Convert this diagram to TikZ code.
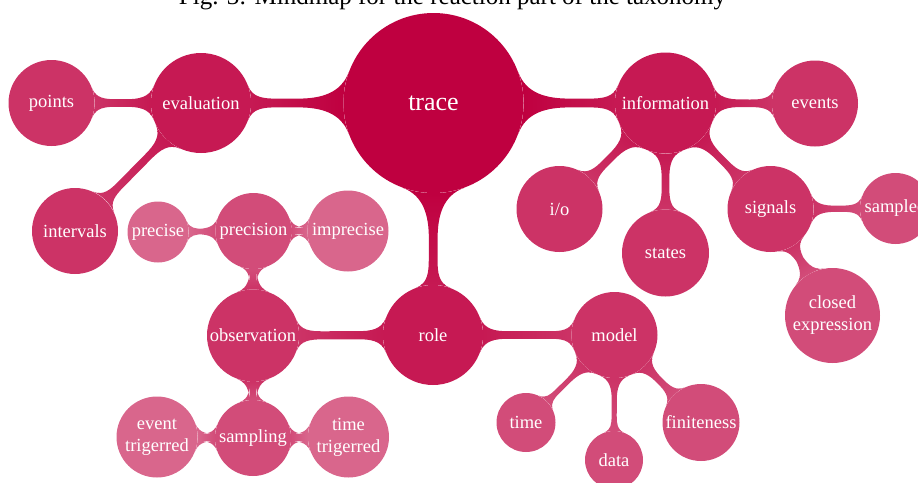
\documentclass[tikz,border=0pt]{standalone}
\usepackage{fontspec}
\setmainfont{Liberation Serif}
\usetikzlibrary{mindmap}
\colorlet{cA}{purple}
\colorlet{cB}{purple!90}
\colorlet{cC}{purple!80}
\colorlet{cD}{purple!70}
\colorlet{cE}{purple!60}
\tikzset{
  bub/.style={circle, inner sep=0pt, text=white, align=center,
    font=\fontsize{18.5}{22}\selectfont, fill=#1},
  link/.style args={#1/#2}{circle connection bar switch color=from (#1) to (#2)}
}
\begin{document}
\begin{tikzpicture}[x=1pt, y=1pt]
\useasboundingbox (0,0) rectangle (918,-482);
\clip (0,0) rectangle (918,-482);
\node[anchor=base, font=\fontsize{25}{30}\selectfont, inner sep=0pt] (cap) at (452.5,-4.5)
  {Fig. 3: Mindmap for the reaction part of the taxonomy};
% nodes
\node[bub=cA, minimum size=180pt, font=\fontsize{26}{30}\selectfont] (trace) at (433.5,-103) {trace};
\node[bub=cB, minimum size=100pt] (evaluation) at (201,-103) {evaluation};
\node[bub=cC, minimum size=86pt] (points) at (51.5,-103) {points};
\node[bub=cC, minimum size=86pt] (intervals) at (75,-231) {intervals};
\node[bub=cB, minimum size=101pt] (information) at (665.5,-103) {information};
\node[bub=cC, minimum size=86pt] (events) at (815,-103.5) {events};
\node[bub=cC, minimum size=86pt] (io) at (559.5,-209) {i/o};
\node[bub=cC, minimum size=87pt] (states) at (665.5,-253) {states};
\node[bub=cC, minimum size=86pt] (signals) at (770.5,-209) {signals};
\node[bub=cD, minimum size=71pt] (sampled) at (895.5,-208.5) {sampled};
\node[bub=cD, minimum size=95pt] (closed) at (832.5,-315.5) {closed\\expression};
\node[bub=cB, minimum size=100pt] (role) at (433,-335) {role};
\node[bub=cC, minimum size=86pt] (model) at (614.5,-335) {model};
\node[bub=cD, minimum size=59pt] (time) at (526,-422.5) {time};
\node[bub=cD, minimum size=58pt] (data) at (614,-460) {data};
\node[bub=cD, minimum size=77pt] (finiteness) at (701,-422.5) {finiteness};
\node[bub=cC, minimum size=92pt] (observation) at (253,-335.5) {observation};
\node[bub=cD, minimum size=76pt] (precision) at (253.5,-231) {precision};
\node[bub=cE, minimum size=61pt] (precise) at (158,-232) {precise};
\node[bub=cE, minimum size=81pt] (imprecise) at (348,-231) {imprecise};
\node[bub=cD, minimum size=76pt] (sampling) at (253,-438) {sampling};
\node[bub=cE, minimum size=81pt] (eventtrig) at (157,-437) {event\\trigerred};
\node[bub=cE, minimum size=81pt] (timetrig) at (348.5,-437) {time\\trigerred};
% connections
\path (trace) to[link=cA/cB] (evaluation);
\path (trace) to[link=cA/cB] (information);
\path (trace) to[link=cA/cB] (role);
\path (evaluation) to[link=cB/cC] (points);
\path (evaluation) to[link=cB/cC] (intervals);
\path (information) to[link=cB/cC] (events);
\path (information) to[link=cB/cC] (io);
\path (information) to[link=cB/cC] (states);
\path (information) to[link=cB/cC] (signals);
\path (signals) to[link=cC/cD] (sampled);
\path (signals) to[link=cC/cD] (closed);
\path (role) to[link=cB/cC] (observation);
\path (role) to[link=cB/cC] (model);
\path (model) to[link=cC/cD] (time);
\path (model) to[link=cC/cD] (data);
\path (model) to[link=cC/cD] (finiteness);
\path (observation) to[link=cC/cD] (precision);
\path (observation) to[link=cC/cD] (sampling);
\path (precision) to[link=cD/cE] (precise);
\path (precision) to[link=cD/cE] (imprecise);
\path (sampling) to[link=cD/cE] (eventtrig);
\path (sampling) to[link=cD/cE] (timetrig);
\end{tikzpicture}
\end{document}
